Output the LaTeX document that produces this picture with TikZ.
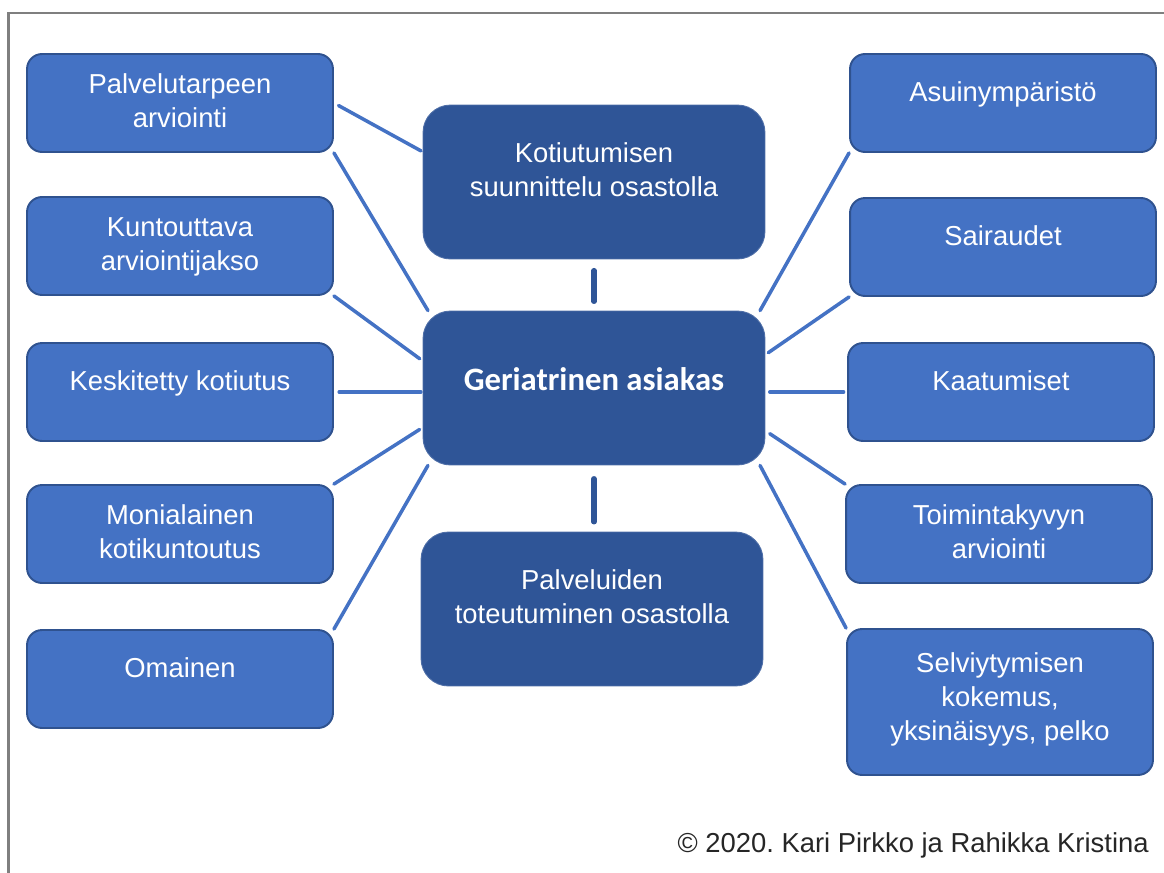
\documentclass[tikz,border=0pt]{standalone}
\usepackage{fontspec}
\setmainfont{Liberation Sans}
\newfontfamily\calibri{Carlito}
\usetikzlibrary{calc}

\definecolor{boxblue}{HTML}{4472C4}
\definecolor{boxedge}{HTML}{2F528F}
\definecolor{coreblue}{HTML}{2F5597}
\definecolor{framegray}{HTML}{7F7F7F}

\tikzset{
  sidebox/.style={draw=boxedge, line width=1.1pt, fill=boxblue, rounded corners=0.3cm,
    minimum width=6.12cm, minimum height=1.96cm, inner sep=1pt, align=center,
    text=white, font=\fontsize{15.6pt}{19.4pt}\selectfont},
  corebox/.style={draw=coreblue!85!white, line width=0.5pt, fill=coreblue, rounded corners=0.55cm,
    minimum width=6.84cm, minimum height=3.08cm, inner sep=1pt, align=center,
    text=white, font=\fontsize{15.6pt}{19.4pt}\selectfont},
  oneline/.style={text height=11.8pt, text depth=14pt},
  twoline/.style={text depth=2.5pt},
  corelines/.style={text depth=14.5pt},
  spoke/.style={draw=boxblue, line width=2pt, line cap=round},
  stem/.style={draw=coreblue, line width=3.1pt, line cap=round},
}

\begin{document}
\begin{tikzpicture}[x=0.02cm, y=-0.02cm]
% 1 unit = 1 px of the 1164 x 873 sheet
\useasboundingbox (0,0) rectangle (1164,873);
\draw[framegray, line width=1.3pt] (1170,13) -- (8.5,13) -- (8.5,880);

% centre column
\node[corebox, corelines] (kotiu) at (594,182) {Kotiutumisen\\suunnittelu osastolla};
\node[corebox, font=\calibri\bfseries\fontsize{18.6pt}{22pt}\selectfont,
  text height=13pt, text depth=10pt] (geri) at (594,388) {Geriatrinen asiakas};
\node[corebox, corelines] (palvo) at (592,609) {Palveluiden\\toteutuminen osastolla};

% left column
\node[sidebox, twoline] (palv) at (180,103) {Palvelutarpeen\\arviointi};
\node[sidebox, twoline] (kunt) at (180,246) {Kuntouttava\\arviointijakso};
\node[sidebox, oneline] (kesk) at (180,392) {Keskitetty kotiutus};
\node[sidebox, twoline] (moni) at (180,534) {Monialainen\\kotikuntoutus};
\node[sidebox, oneline] (omai) at (180,679) {Omainen};

% right column
\node[sidebox, oneline] (asuin) at (1003,103) {Asuinympäristö};
\node[sidebox, oneline] (saira) at (1003,247) {Sairaudet};
\node[sidebox, oneline] (kaatu) at (1001,392) {Kaatumiset};
\node[sidebox, twoline] (toimi) at (999,534) {Toimintakyvyn\\arviointi};
\node[sidebox, minimum height=2.92cm, text depth=6.5pt] (selvi) at (1000,702)
  {Selviytymisen\\kokemus,\\yksinäisyys, pelko};

\node[anchor=base east, inner sep=0pt, text=black!85, font=\fontsize{15.6pt}{19.4pt}\selectfont]
  (cright) at (1149,852) {© 2020.\ Kari Pirkko ja Rahikka Kristina};

% connectors
\draw[stem, shorten <=6.4pt, shorten >=5.3pt] (kotiu.south) -- (geri.north);
\draw[stem, shorten <=7.6pt, shorten >=5.6pt] (geri.south) -- (geri.south |- palvo.north);

\draw[spoke, shorten <=3pt, shorten >=1pt] (palv.east) -- (kotiu.170);
\draw[spoke] (palv.south east) -- (geri.155);
\draw[spoke, shorten >=2pt] (kunt.south east) -- (geri.171);
\draw[spoke, shorten <=3pt, shorten >=1pt] (kesk.east) -- (kesk.east -| geri.west);
\draw[spoke, shorten >=2pt] (moni.north east) -- (geri.193);
\draw[spoke] (omai.north east) -- (geri.205);

\draw[spoke] (asuin.south west) -- (geri.25);
\draw[spoke, shorten >=2pt] (saira.south west) -- (geri.11);
\draw[spoke, shorten <=2pt, shorten >=2.5pt] (kaatu.west) -- (kaatu.west -| geri.east);
\draw[spoke, shorten >=3pt] (toimi.north west) -- (geri.-14);
\draw[spoke] (selvi.north west) -- (geri.-25);
\end{tikzpicture}
\end{document}
